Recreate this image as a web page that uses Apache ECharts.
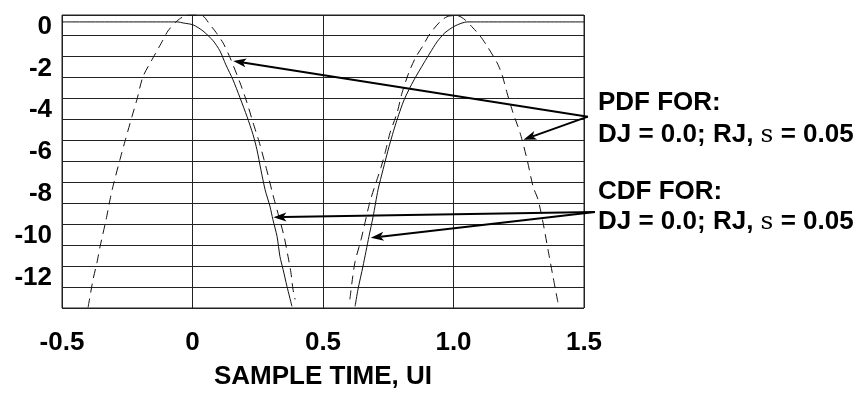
<!DOCTYPE html>
<html>
<head>
<meta charset="utf-8">
<script src="https://cdn.jsdelivr.net/npm/echarts@6/dist/echarts.min.js"></script>
<style>
html, body { margin: 0; padding: 0; background: #fff; }
#chart { width: 861px; height: 405px; }
</style>
</head>
<body>
<div id="chart"></div>
<script>
// tick labels
const xTickLabels = ['-0.5', '0', '0.5', '1.0', '1.5'];
const yTickLabels = [0, -2, -4, -6, -8, -10, -12];

// [sample time UI, level]
const pdfLeft = [
  [-0.400, -13.62], [-0.381, -12.29], [-0.366, -11.48], [-0.354, -10.71], [-0.331, -9.43],
  [-0.316, -8.48], [-0.305, -7.86], [-0.278, -6.57], [-0.259, -5.71], [-0.232, -4.52],
  [-0.213, -3.71], [-0.190, -2.62], [-0.151, -1.71], [-0.113, -0.86], [-0.094, -0.43],
  [-0.059, 0.05], [-0.029, 0.29], [0.010, 0.33], [0.040, 0.29], [0.067, -0.14],
  [0.086, -0.43], [0.117, -1.0], [0.144, -1.71], [0.182, -2.90], [0.209, -3.86],
  [0.232, -4.81], [0.255, -5.71], [0.274, -6.57], [0.289, -7.29], [0.308, -8.24],
  [0.331, -9.29], [0.351, -10.24], [0.366, -11.19], [0.377, -11.95], [0.385, -12.76],
  [0.393, -13.24]
];
const cdfLeft = [
  [-0.5, 0], [-0.056, 0], [-0.036, -0.05], [0.002, -0.14], [0.040, -0.43],
  [0.079, -0.90], [0.105, -1.38], [0.128, -2.05], [0.155, -2.76], [0.182, -3.62],
  [0.209, -4.52], [0.232, -5.38], [0.247, -6.10], [0.262, -7.05], [0.278, -8.0],
  [0.297, -8.81], [0.308, -9.43], [0.324, -10.24], [0.335, -11.19], [0.347, -11.81],
  [0.362, -12.62], [0.381, -13.57]
];
const cdfRight = [
  [0.623, -13.57], [0.634, -12.76], [0.653, -11.67], [0.676, -10.24], [0.692, -9.29],
  [0.711, -8.0], [0.730, -7.05], [0.753, -5.95], [0.780, -4.81], [0.811, -3.71],
  [0.849, -2.76], [0.887, -1.95], [0.910, -1.48], [0.937, -0.95], [0.967, -0.52],
  [1.006, -0.19], [1.052, 0], [1.5, 0]
];
const pdfRight = [
  [0.603, -13.24], [0.611, -12.43], [0.623, -11.43], [0.646, -10.38], [0.661, -9.57],
  [0.680, -8.57], [0.703, -7.67], [0.722, -6.95], [0.738, -6.24], [0.757, -5.29],
  [0.784, -4.33], [0.803, -3.38], [0.830, -2.38], [0.856, -1.67], [0.883, -1.14],
  [0.902, -0.71], [0.921, -0.38], [0.956, 0.10], [0.987, 0.29], [1.017, 0.29],
  [1.044, 0.10], [1.075, -0.29], [1.102, -0.67], [1.128, -1.14], [1.167, -1.95],
  [1.186, -2.52], [1.205, -3.38], [1.228, -4.33], [1.255, -5.29], [1.282, -6.57],
  [1.305, -7.86], [1.324, -8.48], [1.343, -9.57], [1.362, -10.86], [1.381, -12.14],
  [1.400, -13.38]
];

// callouts: arrow start, arrow tips (data units)
const pdfArrowFrom = [1.515, -4.52];
const pdfArrowTo = [[0.156, -1.86], [1.268, -5.62]];
const cdfArrowFrom = [1.542, -9.07];
const cdfArrowTo = [[0.310, -9.32], [0.683, -10.30]];
const noteLines = ['PDF FOR:', 'DJ = 0.0; RJ, ', 'CDF FOR:', 'DJ = 0.0; RJ, '];

const chart = echarts.init(document.getElementById('chart'));

const font = 'Liberation Sans, Arial, sans-serif';
const ink = '#111';

function curve(data, dashed) {
  return {
    type: 'line',
    data: data,
    showSymbol: false,
    smooth: 0.25,
    silent: true,
    lineStyle: { color: ink, width: 1, type: dashed ? [9, 6] : 'solid' }
  };
}

chart.setOption({
  animation: false,
  grid: {
    left: 62, right: 277, top: 15, bottom: 97,
    show: true, borderColor: '#222', borderWidth: 1
  },
  xAxis: {
    type: 'value',
    min: -0.5, max: 1.5, interval: 0.5,
    axisLine: { show: false },
    axisTick: { show: false },
    splitLine: { show: true, lineStyle: { color: '#222', width: 1 } },
    axisLabel: {
      margin: 22,
      color: '#000',
      fontFamily: font, fontWeight: 'bold', fontSize: 26,
      formatter: v => xTickLabels[Math.round((v + 0.5) / 0.5)]
    },
    name: 'SAMPLE TIME, UI',
    nameLocation: 'middle',
    nameGap: 56,
    nameTextStyle: { color: '#000', fontFamily: font, fontWeight: 'bold', fontSize: 26 }
  },
  yAxis: {
    type: 'value',
    min: -13.65, max: 0.33, interval: 1,
    axisLine: { show: false },
    axisTick: { show: false },
    splitLine: { show: true, lineStyle: { color: '#222', width: 1 } },
    axisLabel: {
      margin: 10,
      verticalAlign: 'top',
      lineHeight: 9,
      color: '#000',
      fontFamily: font, fontWeight: 'bold', fontSize: 26,
      customValues: yTickLabels,
      formatter: v => String(Math.round(v))
    }
  },
  series: [
    curve(pdfLeft, true),
    curve(cdfLeft, false),
    curve(cdfRight, false),
    curve(pdfRight, true)
  ]
});

function arrow(from, to) {
  const p0 = chart.convertToPixel({ gridIndex: 0 }, from);
  const p1 = chart.convertToPixel({ gridIndex: 0 }, to);
  const dx = p1[0] - p0[0], dy = p1[1] - p0[1];
  const len = Math.hypot(dx, dy);
  const ux = dx / len, uy = dy / len;
  const L = 13, W = 4.5;
  const bx = p1[0] - ux * L, by = p1[1] - uy * L;
  const nx = p1[0] - ux * L * 0.75, ny = p1[1] - uy * L * 0.75;
  return [
    {
      type: 'line', silent: true,
      shape: { x1: p0[0], y1: p0[1], x2: nx, y2: ny },
      style: { stroke: '#000', lineWidth: 2 }
    },
    {
      type: 'polygon', silent: true,
      shape: { points: [p1, [bx - uy * W, by + ux * W], [nx, ny], [bx + uy * W, by - ux * W]] },
      style: { fill: '#000' }
    }
  ];
}

function note(text, y, withSigma) {
  const left = 861 - 277 + 14;
  return {
    type: 'text', silent: true, x: left, y: y,
    style: withSigma ? {
      text: '{b|' + text + '}{s|s}{b| = 0.05}',
      rich: {
        b: { fontFamily: font, fontWeight: 'bold', fontSize: 26, fill: '#000' },
        s: { fontFamily: 'DejaVu Serif, serif', fontSize: 25, fill: '#000' }
      },
      verticalAlign: 'middle'
    } : {
      text: text,
      fontFamily: font, fontWeight: 'bold', fontSize: 26, fill: '#000',
      verticalAlign: 'middle'
    }
  };
}

let g = [];
pdfArrowTo.forEach(t => { g = g.concat(arrow(pdfArrowFrom, t)); });
cdfArrowTo.forEach(t => { g = g.concat(arrow(cdfArrowFrom, t)); });
g.push(note(noteLines[0], 103, false));
g.push(note(noteLines[1], 135, true));
g.push(note(noteLines[2], 192, false));
g.push(note(noteLines[3], 222, true));

chart.setOption({ graphic: g });
window.addEventListener('resize', () => chart.resize());
</script>
</body>
</html>
